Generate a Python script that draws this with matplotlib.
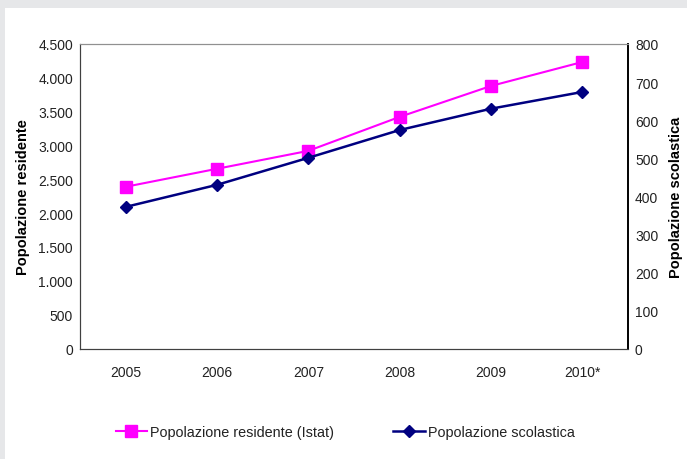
import matplotlib
matplotlib.use("Agg")
import matplotlib.pyplot as plt
from matplotlib.patches import Rectangle
from matplotlib.ticker import FuncFormatter, MultipleLocator

anni = ["2005", "2006", "2007", "2008", "2009", "2010*"]
pop_residente = [2390, 2656, 2921, 3423, 3880, 4234]
pop_scolastica = [372, 430, 501, 574, 630, 674]

plt.rcParams["font.family"] = ["Liberation Sans", "DejaVu Sans"]
plt.rcParams["font.size"] = 10
plt.rcParams["text.color"] = "#222222"

fig = plt.figure(figsize=(6.87, 4.6), dpi=100, facecolor="#e6e7e9")
fig.patches.append(Rectangle((5 / 687, 0), 1, 1 - 9 / 460, transform=fig.transFigure,
                             facecolor="white", edgecolor="none", zorder=-10))

ax = fig.add_axes([80 / 687, 1 - 349.5 / 460, 548 / 687, 304.5 / 460])
ax2 = ax.twinx()

x = range(len(anni))
l1, = ax.plot(x, pop_residente, color="#ff00ff", lw=1.5, marker="s", ms=8.5,
              label="Popolazione residente (Istat)", zorder=3)
l2, = ax2.plot(x, pop_scolastica, color="#000080", lw=1.8, marker="D", ms=6,
               label="Popolazione scolastica")

ax.set_xlim(-0.5, len(anni) - 0.5)
ax.set_ylim(0, 4500)
ax.yaxis.set_major_locator(MultipleLocator(500))
ax.yaxis.set_major_formatter(FuncFormatter(lambda v, p: f"{int(v):,}".replace(",", ".")))
ax2.set_ylim(0, 800)
ax2.yaxis.set_major_locator(MultipleLocator(100))

ax.set_xticks(list(x))
ax.set_xticklabels(anni)
ax.tick_params(axis="x", length=0, pad=12, colors="#222222")
ax.tick_params(axis="y", length=0, pad=5, colors="#222222")
ax2.tick_params(axis="y", length=0, pad=5, colors="#222222")

for a in (ax, ax2):
    a.spines["left"].set_color("#404040")
    a.spines["bottom"].set_color("#404040")
    a.spines["top"].set_color("#909090")
    a.spines["right"].set_color("#000000")
    a.spines["right"].set_linewidth(1.2)

ax.set_ylabel("Popolazione residente", fontweight="bold", fontsize=10.5, labelpad=6)
ax2.set_ylabel("Popolazione scolastica", fontweight="bold", fontsize=10.5, labelpad=8)

fig.legend([l1, l2], [l1.get_label(), l2.get_label()], loc="center",
           bbox_to_anchor=(0.5026, 1 - 433 / 460), ncol=2, frameon=False,
           fontsize=10.4, handlelength=2.2, columnspacing=4.1, handletextpad=0.2)

fig.savefig("out.png", dpi=100, facecolor=fig.get_facecolor())
